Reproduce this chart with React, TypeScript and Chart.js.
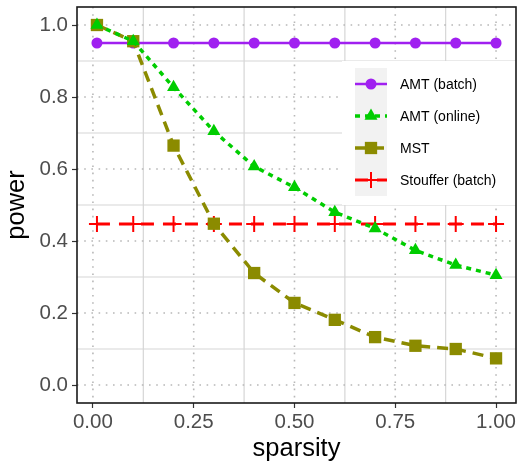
import React, { useEffect, useRef } from "react";
import { Chart, registerables } from "chart.js";

Chart.register(...registerables);

const sparsity = [0.01, 0.1, 0.2, 0.3, 0.4, 0.5, 0.6, 0.7, 0.8, 0.9, 1.0];
const amtBatch = [0.95, 0.95, 0.95, 0.95, 0.95, 0.95, 0.95, 0.95, 0.95, 0.95, 0.95];
const amtOnline = [1.0, 0.955, 0.827, 0.705, 0.607, 0.549, 0.48, 0.435, 0.374, 0.333, 0.305];
const mst = [1.0, 0.955, 0.665, 0.448, 0.311, 0.228, 0.181, 0.133, 0.109, 0.1, 0.074];
const stouffer = [0.447, 0.447, 0.447, 0.447, 0.447, 0.447, 0.447, 0.447, 0.447, 0.447, 0.447];

const seriesNames = ["AMT (batch)", "AMT (online)", "MST", "Stouffer (batch)"];
const xTicks = [0, 0.25, 0.5, 0.75, 1.0];
const xMinor = [0.125, 0.375, 0.625, 0.875];
const yTicks = [0, 0.2, 0.4, 0.6, 0.8, 1.0];
const yMinor = [0.1, 0.3, 0.5, 0.7, 0.9];

const FONT = "'Liberation Sans', Arial, Helvetica, sans-serif";

type Style = {
  color: string;
  width: number;
  dash: number[];
  shape: "circle" | "triangle" | "rect" | "cross";
  radius: number;
  pointBorder: number;
};

const styles: Style[] = [
  { color: "#A020F0", width: 2.5, dash: [], shape: "circle", radius: 5.5, pointBorder: 0 },
  { color: "#00CD00", width: 3.5, dash: [5, 5], shape: "triangle", radius: 7.5, pointBorder: 0 },
  { color: "#8B8B00", width: 3.5, dash: [11, 7], shape: "rect", radius: 8.7, pointBorder: 0 },
  { color: "#FF0000", width: 3, dash: [13, 9], shape: "cross", radius: 8, pointBorder: 2 },
];

function drawMarker(ctx: CanvasRenderingContext2D, s: Style, x: number, y: number) {
  ctx.save();
  ctx.setLineDash([]);
  ctx.fillStyle = s.color;
  ctx.strokeStyle = s.color;
  const r = s.radius;
  if (s.shape === "circle") {
    ctx.beginPath();
    ctx.arc(x, y, r, 0, Math.PI * 2);
    ctx.fill();
  } else if (s.shape === "triangle") {
    ctx.beginPath();
    let a = 0;
    ctx.moveTo(x + Math.sin(a) * r, y - Math.cos(a) * r);
    a += (2 * Math.PI) / 3;
    ctx.lineTo(x + Math.sin(a) * r, y - Math.cos(a) * r);
    a += (2 * Math.PI) / 3;
    ctx.lineTo(x + Math.sin(a) * r, y - Math.cos(a) * r);
    ctx.closePath();
    ctx.fill();
  } else if (s.shape === "rect") {
    const h = r * Math.SQRT1_2;
    ctx.fillRect(x - h, y - h, 2 * h, 2 * h);
  } else {
    ctx.lineWidth = s.pointBorder;
    ctx.beginPath();
    ctx.moveTo(x - r, y);
    ctx.lineTo(x + r, y);
    ctx.moveTo(x, y - r);
    ctx.lineTo(x, y + r);
    ctx.stroke();
  }
  ctx.restore();
}

const gridPlugin = {
  id: "ggGrid",
  beforeDatasetsDraw(chart: any) {
    const { ctx, chartArea, scales } = chart;
    const { left, right, top, bottom } = chartArea;
    ctx.save();
    ctx.fillStyle = "#FFFFFF";
    ctx.fillRect(left, top, right - left, bottom - top);
    ctx.strokeStyle = "#D6D6D6";
    ctx.lineWidth = 1.2;
    ctx.setLineDash([]);
    ctx.beginPath();
    xMinor.forEach((v) => {
      const px = scales.x.getPixelForValue(v);
      ctx.moveTo(px, top);
      ctx.lineTo(px, bottom);
    });
    yMinor.forEach((v) => {
      const py = scales.y.getPixelForValue(v);
      ctx.moveTo(left, py);
      ctx.lineTo(right, py);
    });
    ctx.stroke();
    ctx.strokeStyle = "#B8B8B8";
    ctx.lineWidth = 1.6;
    ctx.setLineDash([1.6, 5.6]);
    ctx.beginPath();
    xTicks.forEach((v) => {
      const px = scales.x.getPixelForValue(v);
      ctx.moveTo(px, top);
      ctx.lineTo(px, bottom);
    });
    yTicks.forEach((v) => {
      const py = scales.y.getPixelForValue(v);
      ctx.moveTo(left, py);
      ctx.lineTo(right, py);
    });
    ctx.stroke();
    ctx.restore();
  },
  afterDraw(chart: any) {
    const { ctx, chartArea } = chart;
    ctx.save();
    const lx = 342;
    const ly = 61;
    ctx.fillStyle = "#FFFFFF";
    ctx.fillRect(lx, ly, chartArea.right - lx, 144);
    const kx = 355;
    const kw = 32;
    const ky = 68;
    const kh = 32;
    ctx.fillStyle = "#F2F2F2";
    ctx.fillRect(kx, ky, kw, kh * 4);
    styles.forEach((s, i) => {
      const cy = ky + kh * i + kh / 2;
      ctx.save();
      ctx.beginPath();
      ctx.rect(kx, ky + kh * i, kw, kh);
      ctx.clip();
      ctx.strokeStyle = s.color;
      ctx.lineWidth = s.width;
      ctx.setLineDash(s.dash);
      ctx.lineDashOffset = 0;
      ctx.beginPath();
      ctx.moveTo(kx, cy);
      ctx.lineTo(kx + kw, cy);
      ctx.stroke();
      ctx.restore();
      drawMarker(ctx, s, kx + kw / 2, cy);
      ctx.fillStyle = "#000000";
      ctx.font = `14px ${FONT}`;
      ctx.textAlign = "left";
      ctx.textBaseline = "middle";
      ctx.fillText(seriesNames[i], 400, cy + 1);
    });
    ctx.strokeStyle = "#1A1A1A";
    ctx.lineWidth = 1.6;
    ctx.setLineDash([]);
    ctx.strokeRect(chartArea.left, chartArea.top, chartArea.right - chartArea.left, chartArea.bottom - chartArea.top);
    ctx.restore();
  },
};

function zeroPad(scale: any) {
  scale.paddingLeft = 0;
  scale.paddingRight = 0;
  scale.paddingTop = 0;
  scale.paddingBottom = 0;
}

export default function App() {
  const ref = useRef<HTMLCanvasElement>(null);
  useEffect(() => {
    if (!ref.current) return;
    const allSeries = [amtBatch, amtOnline, mst, stouffer];
    const drawOrder = [2, 0, 1, 3];
    const datasets = allSeries.map((vals, i) => {
      const s = styles[i];
      return {
        label: seriesNames[i],
        data: sparsity.map((x, j) => ({ x, y: vals[j] })),
        borderColor: s.color,
        backgroundColor: s.color,
        borderWidth: s.width,
        borderDash: s.dash,
        pointStyle: s.shape,
        pointRadius: s.radius,
        pointHoverRadius: s.radius,
        pointBackgroundColor: s.color,
        pointBorderColor: s.color,
        pointBorderWidth: s.pointBorder,
        tension: 0,
        fill: false,
        order: drawOrder[i],
        clip: false as any,
      };
    });
    const chart = new Chart(ref.current, {
      type: "line",
      data: { datasets },
      plugins: [gridPlugin],
      options: {
        animation: false,
        responsive: false,
        devicePixelRatio: 1,
        events: [],
        layout: { autoPadding: false, padding: { left: 0, right: 1, top: 7, bottom: 0 } },
        plugins: { legend: { display: false }, tooltip: { enabled: false } },
        scales: {
          x: {
            type: "linear",
            min: -0.0395,
            max: 1.0495,
            afterBuildTicks: (scale: any) => {
              scale.ticks = xTicks.map((v) => ({ value: v }));
            },
            afterFit: (scale: any) => {
              scale.height = 61;
              zeroPad(scale);
            },
            ticks: {
              autoSkip: false,
              maxRotation: 0,
              padding: 2,
              color: "#4D4D4D",
              font: { family: FONT, size: 20.5 },
              callback: (v: any) => Number(v).toFixed(2),
            },
            grid: {
              drawOnChartArea: false,
              drawTicks: true,
              tickLength: 5,
              tickColor: "#333333",
              tickWidth: 1.2,
            },
            border: { display: false },
            title: {
              display: true,
              text: "sparsity",
              color: "#000000",
              font: { family: FONT, size: 25.5 },
              padding: { top: 0, bottom: 0 },
            },
          },
          y: {
            type: "linear",
            min: -0.05,
            max: 1.05,
            afterBuildTicks: (scale: any) => {
              scale.ticks = yTicks.map((v) => ({ value: v }));
            },
            afterFit: (scale: any) => {
              scale.width = 77;
              zeroPad(scale);
            },
            ticks: {
              autoSkip: false,
              padding: 4,
              color: "#4D4D4D",
              font: { family: FONT, size: 20.5 },
              callback: (v: any) => Number(v).toFixed(1),
            },
            grid: {
              drawOnChartArea: false,
              drawTicks: true,
              tickLength: 5,
              tickColor: "#333333",
              tickWidth: 1.2,
            },
            border: { display: false },
            title: {
              display: true,
              text: "power",
              color: "#000000",
              font: { family: FONT, size: 25.5 },
              padding: { top: 2, bottom: 0 },
            },
          },
        },
      },
    });
    return () => chart.destroy();
  }, []);
  return (
    <div style={{ position: "absolute", left: 0, top: 0, width: 517, height: 464, background: "#fff" }}>
      <canvas ref={ref} width={517} height={464} />
    </div>
  );
}
